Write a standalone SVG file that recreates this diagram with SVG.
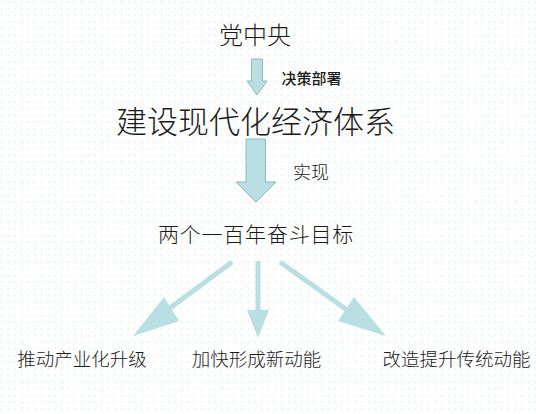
<svg xmlns="http://www.w3.org/2000/svg" width="536" height="414" viewBox="0 0 536 414">
  <style>
    text { font-family: "Noto Sans CJK SC", "Noto Sans", sans-serif; fill: #1a1a1a; text-anchor: middle; font-weight: 300; }
    .block { fill: #b9dfe2; stroke: #8db9be; stroke-width: 1; }
    .shaft { stroke: #b9dfe2; stroke-width: 5; fill: none; }
    .head { fill: #b9dfe2; }
  </style>
  <defs>
    <pattern id="dots" x="0" y="0" width="6.67" height="6.67" patternUnits="userSpaceOnUse">
      <rect x="1" y="1.5" width="1.1" height="1.1" fill="#bfe0df"/>
    </pattern>
  </defs>
  <rect width="536" height="414" fill="#ffffff"/>
  <rect width="536" height="414" fill="url(#dots)"/>

  <g id="connectors">
    <path class="block" d="M251.5,59 H262.5 V81 H267 L257,95 L247,81 H251.5 Z"/>
    <path class="block" d="M246,139 H265.5 V182 H276 L256,202 L236,182 H246 Z"/>
    <line class="shaft" x1="232" y1="262" x2="170" y2="308"/>
    <polygon class="head" points="164,297 179,321 133,336"/>
    <line class="shaft" x1="258" y1="261" x2="258" y2="312"/>
    <polygon class="head" points="247,310 269,310 258,338"/>
    <line class="shaft" x1="280" y1="262" x2="347" y2="310"/>
    <polygon class="head" points="354,297 338,321 386,336"/>
  </g>

  <g id="n-center"><text x="255" y="44" font-size="24">党中央</text></g>
  <g id="l-decide"><text x="311.5" y="84" font-size="15" style="font-weight:500">决策部署</text></g>
  <g id="n-build"><text x="255.5" y="133" font-size="31">建设现代化经济体系</text></g>
  <g id="l-realize"><text x="311" y="179" font-size="18">实现</text></g>
  <g id="n-goal"><text x="256" y="242" font-size="21" letter-spacing="0.8">两个一百年奋斗目标</text></g>
  <g id="n-upgrade"><text x="82" y="366" font-size="18.5">推动产业化升级</text></g>
  <g id="n-new"><text x="256.5" y="366" font-size="18.5">加快形成新动能</text></g>
  <g id="n-old"><text x="456.5" y="366" font-size="18.5">改造提升传统动能</text></g>
</svg>
